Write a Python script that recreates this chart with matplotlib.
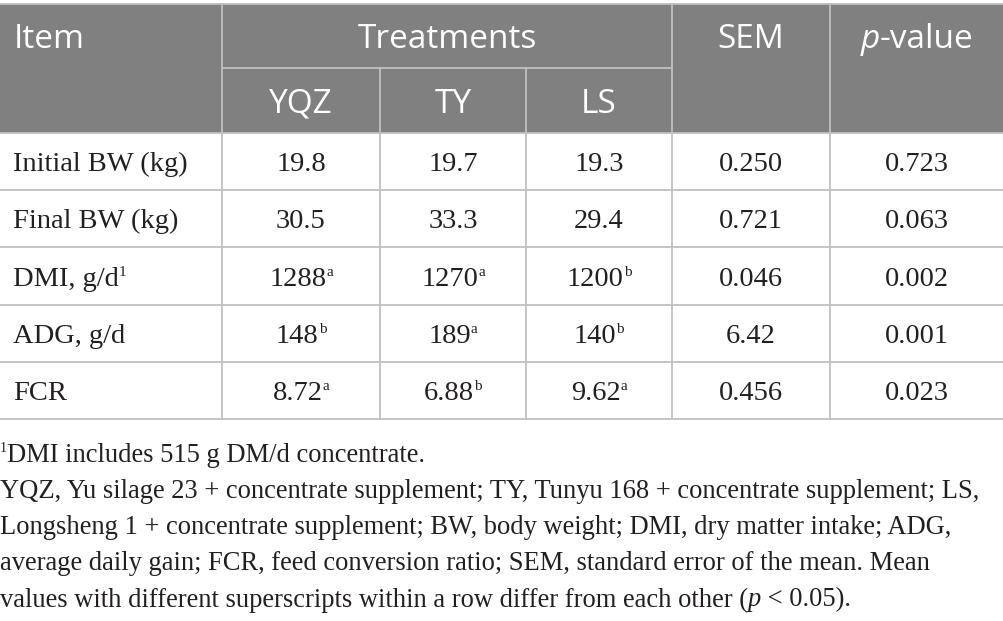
import matplotlib
matplotlib.use("Agg")
import matplotlib.pyplot as plt
from matplotlib.patches import Rectangle

# ---- data ----
items = ["Initial BW (kg)", "Final BW (kg)", "DMI, g/d", "ADG, g/d", "FCR"]
item_sup = ["", "", "1", "", ""]
treatments = ["YQZ", "TY", "LS"]
yqz = ["19.8", "30.5", "1288", "148", "8.72"]
yqz_sup = ["", "", "a", "b", "a"]
ty = ["19.7", "33.3", "1270", "189", "6.88"]
ty_sup = ["", "", "a", "a", "b"]
ls = ["19.3", "29.4", "1200", "140", "9.62"]
ls_sup = ["", "", "b", "b", "a"]
sem = ["0.250", "0.721", "0.046", "6.42", "0.456"]
pval = ["0.723", "0.063", "0.002", "0.001", "0.023"]

W, H = 1004, 621
fig = plt.figure(figsize=(W / 100, H / 100), dpi=100)
ax = fig.add_axes([0, 0, 1, 1])
ax.set_xlim(0, W)
ax.set_ylim(H, 0)
ax.axis("off")
renderer = fig.canvas.get_renderer()

HEAD_BG = "#808080"
GRID = "#c0c0c0"
SANS = "Open Sans"
SERIF = "Liberation Serif"
HS = 24
DS = 20.5
FS = 19.1

cols = [0, 222, 380, 526, 672, 830, 1004]
top, hmid, hbot = 4, 68, 133
row_h = 57.2
rows = [hbot + i * row_h for i in range(len(items) + 1)]

# header background
ax.add_patch(Rectangle((0, top), W, hbot - top, facecolor=HEAD_BG, edgecolor="none"))
lw = 1.3
ax.plot([0, W], [top, top], color=GRID, lw=lw)
ax.plot([cols[1], cols[4]], [hmid, hmid], color=GRID, lw=lw)
for x in cols[1:-1]:
    if x in (cols[2], cols[3]):
        ax.plot([x, x], [hmid, rows[-1]], color=GRID, lw=lw)
    else:
        ax.plot([x, x], [top, rows[-1]], color=GRID, lw=lw)
for y in rows:
    ax.plot([0, W], [y, y], color=GRID, lw=lw)


def width_of(txt, **kw):
    t = ax.text(0, 0, txt, **kw)
    bb = t.get_window_extent(renderer=renderer)
    t.remove()
    return bb.width


def runs(x, y, parts, ha="center", color="#231f20"):
    # parts: list of (text, family, size, style, dy)
    widths = [width_of(p[0], family=p[1], fontsize=p[2], style=p[3]) for p in parts]
    total = sum(widths)
    x0 = x - total / 2 if ha == "center" else x
    for (txt, fam, size, style, dy), w in zip(parts, widths):
        ax.text(x0, y + dy, txt, family=fam, fontsize=size, style=style,
                color=color, ha="left", va="center")
        x0 += w


# header text
ycen1 = (top + hmid) / 2 + 4
ycen2 = (hmid + hbot) / 2 + 4
ax.text(14, ycen1, "Item", family=SANS, fontsize=HS, color="white", ha="left", va="center")
ax.text((cols[1] + cols[4]) / 2, ycen1, "Treatments", family=SANS, fontsize=HS,
        color="white", ha="center", va="center")
for i, t in enumerate(treatments):
    ax.text((cols[1 + i] + cols[2 + i]) / 2, ycen2, t, family=SANS, fontsize=HS,
            color="white", ha="center", va="center")
ax.text((cols[4] + cols[5]) / 2, ycen1, "SEM", family=SANS, fontsize=HS,
        color="white", ha="center", va="center")
runs((cols[5] + cols[6]) / 2, ycen1,
     [("p", SANS, HS, "italic", 0), ("-value", SANS, HS, "normal", 0)], color="white")

# body
sup_sz = 11
for r in range(len(items)):
    yc = (rows[r] + rows[r + 1]) / 2 + 3
    parts = [(items[r], SERIF, DS, "normal", 0)]
    if item_sup[r]:
        parts.append((item_sup[r], SERIF, sup_sz, "normal", -7))
    runs(13, yc, parts, ha="left")
    for c, (vals, sups) in enumerate([(yqz, yqz_sup), (ty, ty_sup), (ls, ls_sup)]):
        parts = [(vals[r], SERIF, DS, "normal", 0)]
        if sups[r]:
            parts.append((sups[r], SERIF, sup_sz, "normal", -7))
        runs((cols[1 + c] + cols[2 + c]) / 2, yc, parts)
    runs((cols[4] + cols[5]) / 2, yc, [(sem[r], SERIF, DS, "normal", 0)])
    runs((cols[5] + cols[6]) / 2, yc, [(pval[r], SERIF, DS, "normal", 0)])

# footnotes
fy = [456, 492, 528, 564, 600]
runs(0, fy[0], [("1", SERIF, 10, "normal", -7),
                ("DMI includes 515 g DM/d concentrate.", SERIF, FS, "normal", 0)], ha="left")
lines = [
    "YQZ, Yu silage 23 + concentrate supplement; TY, Tunyu 168 + concentrate supplement; LS,",
    "Longsheng 1 + concentrate supplement; BW, body weight; DMI, dry matter intake; ADG,",
    "average daily gain; FCR, feed conversion ratio; SEM, standard error of the mean. Mean",
]
for yy, ln in zip(fy[1:4], lines):
    runs(0, yy, [(ln, SERIF, FS, "normal", 0)], ha="left")
runs(0, fy[4], [("values with different superscripts within a row differ from each other (", SERIF, FS, "normal", 0),
                ("p", SERIF, FS, "italic", 0),
                (" < 0.05).", SERIF, FS, "normal", 0)], ha="left")

fig.savefig("out.png", dpi=100, facecolor="white")
